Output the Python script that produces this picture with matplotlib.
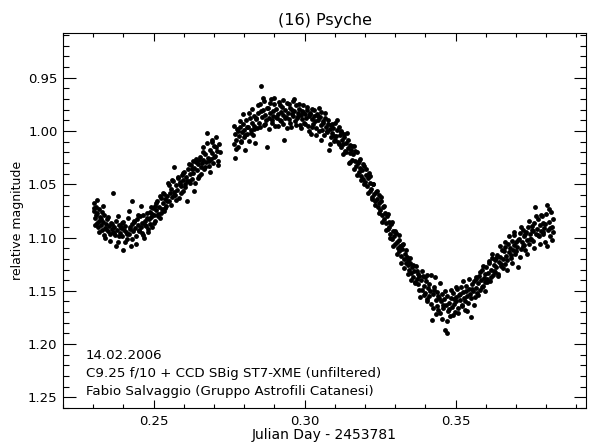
import matplotlib
matplotlib.use("Agg")
import matplotlib.pyplot as plt
from matplotlib.ticker import MultipleLocator

# light curve of (16) Psyche (JD - 2453781, relative mag)
jd_a = [0.2302, 0.2304, 0.2306, 0.2308, 0.2310, 0.2312, 0.2314, 0.2316, 0.2318, 0.2320,
        0.2323, 0.2325, 0.2328, 0.2330, 0.2333, 0.2335, 0.2338, 0.2340, 0.2343, 0.2346,
        0.2349, 0.2352, 0.2355, 0.2358, 0.2361, 0.2364, 0.2367, 0.2370, 0.2373, 0.2376,
        0.2379, 0.2382, 0.2385, 0.2388, 0.2391, 0.2394, 0.2397, 0.2400, 0.2403, 0.2406,
        0.2409, 0.2412, 0.2415, 0.2418, 0.2421, 0.2424, 0.2427, 0.2430, 0.2433, 0.2436,
        0.2439, 0.2442, 0.2445, 0.2448, 0.2451, 0.2454, 0.2457, 0.2460, 0.2463, 0.2466,
        0.2469, 0.2472, 0.2475, 0.2478, 0.2481, 0.2484, 0.2487, 0.2490, 0.2493, 0.2496,
        0.2301, 0.2307, 0.2313, 0.2319, 0.2326, 0.2332, 0.2337, 0.2344, 0.2350, 0.2356,
        0.2362, 0.2369, 0.2375, 0.2381, 0.2387, 0.2393, 0.2399, 0.2405, 0.2411, 0.2417,
        0.2423, 0.2429, 0.2435, 0.2441, 0.2447, 0.2453, 0.2459, 0.2465, 0.2471, 0.2477,
        0.2483, 0.2489, 0.2494, 0.2498]
mag_a = [1.068, 1.075, 1.082, 1.071, 1.079, 1.086, 1.077, 1.090, 1.073, 1.084,
         1.081, 1.088, 1.076, 1.093, 1.085, 1.079, 1.091, 1.100, 1.087, 1.083,
         1.094, 1.089, 1.097, 1.086, 1.092, 1.095, 1.058, 1.090, 1.098, 1.084,
         1.093, 1.104, 1.088, 1.096, 1.091, 1.086, 1.099, 1.112, 1.093, 1.089,
         1.095, 1.101, 1.082, 1.097, 1.090, 1.108, 1.087, 1.066, 1.094, 1.085,
         1.091, 1.099, 1.083, 1.088, 1.094, 1.080, 1.090, 1.086, 1.096, 1.079,
         1.100, 1.084, 1.089, 1.077, 1.092, 1.083, 1.087, 1.071, 1.081, 1.078,
         1.072, 1.088, 1.065, 1.095, 1.083, 1.070, 1.098, 1.092, 1.081, 1.103,
         1.087, 1.096, 1.108, 1.080, 1.099, 1.090, 1.085, 1.104, 1.097, 1.075,
         1.092, 1.101, 1.084, 1.106, 1.079, 1.093, 1.070, 1.098, 1.088, 1.082,
         1.095, 1.076, 1.090, 1.072]

jd_b = [0.2500, 0.2503, 0.2506, 0.2509, 0.2512, 0.2515, 0.2518, 0.2521, 0.2524, 0.2527,
        0.2530, 0.2533, 0.2536, 0.2539, 0.2542, 0.2545, 0.2548, 0.2551, 0.2554, 0.2557,
        0.2560, 0.2563, 0.2566, 0.2569, 0.2572, 0.2575, 0.2578, 0.2581, 0.2584, 0.2587,
        0.2590, 0.2593, 0.2596, 0.2599, 0.2602, 0.2605, 0.2608, 0.2611, 0.2614, 0.2617,
        0.2620, 0.2623, 0.2626, 0.2629, 0.2632, 0.2635, 0.2638, 0.2641, 0.2644, 0.2647,
        0.2650, 0.2653, 0.2656, 0.2659, 0.2662, 0.2665, 0.2668, 0.2671, 0.2674, 0.2677,
        0.2680, 0.2683, 0.2686, 0.2689, 0.2692, 0.2695, 0.2698, 0.2701, 0.2704, 0.2707,
        0.2710, 0.2713, 0.2716, 0.2719,
        0.2502, 0.2508, 0.2514, 0.2520, 0.2526, 0.2532, 0.2538, 0.2544, 0.2550, 0.2556,
        0.2562, 0.2568, 0.2574, 0.2580, 0.2586, 0.2592, 0.2598, 0.2604, 0.2610, 0.2616,
        0.2622, 0.2628, 0.2634, 0.2640, 0.2646, 0.2652, 0.2658, 0.2664, 0.2670, 0.2676,
        0.2682, 0.2688, 0.2694, 0.2700, 0.2706, 0.2712]
mag_b = [1.079, 1.070, 1.084, 1.074, 1.066, 1.078, 1.071, 1.082, 1.063, 1.073,
         1.068, 1.059, 1.075, 1.064, 1.070, 1.061, 1.049, 1.066, 1.058, 1.054,
         1.062, 1.047, 1.057, 1.034, 1.060, 1.051, 1.055, 1.044, 1.063, 1.048,
         1.052, 1.041, 1.056, 1.046, 1.038, 1.050, 1.043, 1.066, 1.036, 1.047,
         1.040, 1.032, 1.045, 1.028, 1.039, 1.035, 1.049, 1.026, 1.037, 1.031,
         1.042, 1.024, 1.034, 1.030, 1.015, 1.027, 1.036, 1.022, 1.029, 1.002,
         1.025, 1.033, 1.018, 1.026, 1.010, 1.021, 1.030, 1.014, 1.023, 1.006,
         1.019, 1.028, 1.012, 1.020,
         1.086, 1.068, 1.080, 1.061, 1.077, 1.058, 1.072, 1.066, 1.051, 1.069,
         1.046, 1.060, 1.065, 1.043, 1.050, 1.058, 1.039, 1.053, 1.047, 1.031,
         1.049, 1.036, 1.056, 1.029, 1.044, 1.027, 1.040, 1.020, 1.034, 1.011,
         1.028, 1.038, 1.008, 1.024, 1.015, 1.032]

jd_c = [0.2765, 0.2768, 0.2771, 0.2774, 0.2777, 0.2780, 0.2783, 0.2786, 0.2789, 0.2792,
        0.2795, 0.2798, 0.2801, 0.2804, 0.2807, 0.2810, 0.2813, 0.2816, 0.2819, 0.2822,
        0.2825, 0.2828, 0.2831, 0.2834, 0.2837, 0.2840, 0.2843, 0.2846, 0.2849, 0.2852,
        0.2855, 0.2858, 0.2861, 0.2864, 0.2867, 0.2870, 0.2873, 0.2876, 0.2879, 0.2882,
        0.2885, 0.2888, 0.2891, 0.2894, 0.2897, 0.2900, 0.2903, 0.2906, 0.2909, 0.2912,
        0.2915, 0.2918, 0.2921, 0.2924, 0.2927, 0.2930, 0.2933, 0.2936, 0.2939, 0.2942,
        0.2945, 0.2948, 0.2951, 0.2954, 0.2957, 0.2960, 0.2963, 0.2966, 0.2969, 0.2972,
        0.2975, 0.2978, 0.2981, 0.2984, 0.2987, 0.2990, 0.2993, 0.2996, 0.2999, 0.3002,
        0.3005, 0.3008, 0.3011, 0.3014, 0.3017, 0.3020, 0.3023, 0.3026, 0.3029, 0.3032,
        0.3035, 0.3038, 0.3041, 0.3044, 0.3047, 0.3050, 0.3053, 0.3056, 0.3059, 0.3062,
        0.3065, 0.3068, 0.3071, 0.3074, 0.3077, 0.3080, 0.3083, 0.3086, 0.3089, 0.3092,
        0.3095, 0.3098,
        0.2767, 0.2773, 0.2779, 0.2785, 0.2791, 0.2797, 0.2803, 0.2809, 0.2815, 0.2821,
        0.2827, 0.2833, 0.2839, 0.2845, 0.2851, 0.2857, 0.2863, 0.2869, 0.2875, 0.2881,
        0.2887, 0.2893, 0.2899, 0.2905, 0.2911, 0.2917, 0.2923, 0.2929, 0.2935, 0.2941,
        0.2947, 0.2953, 0.2959, 0.2965, 0.2971, 0.2977, 0.2983, 0.2989, 0.2995, 0.3001,
        0.3007, 0.3013, 0.3019, 0.3025, 0.3031, 0.3037, 0.3043, 0.3049, 0.3055, 0.3061,
        0.3067, 0.3073, 0.3079, 0.3085, 0.3091, 0.3097]
mag_c = [1.012, 1.025, 1.003, 1.008, 0.998, 1.015, 1.005, 0.996, 1.010, 1.001,
         0.993, 1.006, 0.999, 1.018, 0.990, 1.003, 0.996, 1.009, 0.988, 0.999,
         0.992, 1.004, 0.986, 0.995, 1.011, 0.989, 0.997, 0.983, 0.992, 0.975,
         0.958, 0.987, 0.980, 0.994, 0.972, 0.985, 0.990, 1.015, 0.978, 0.988,
         0.983, 0.970, 0.992, 0.981, 0.986, 0.975, 0.995, 0.979, 0.988, 0.984,
         0.973, 0.990, 0.982, 0.977, 0.993, 0.985, 1.008, 0.980, 0.987, 0.974,
         0.983, 0.989, 0.978, 0.996, 0.984, 0.972, 0.986, 0.981, 0.991, 0.976,
         0.988, 0.983, 0.979, 0.994, 0.985, 0.981, 0.989, 0.976, 0.992, 0.984,
         0.988, 0.980, 0.995, 0.986, 0.983, 1.003, 0.989, 0.979, 0.993, 0.986,
         0.991, 0.997, 0.984, 0.990, 1.000, 0.987, 0.994, 0.982, 0.999, 0.992,
         1.004, 0.988, 0.996, 1.001, 0.993, 1.018, 0.998, 1.006, 0.994, 1.002,
         0.997, 1.009,
         0.995, 1.017, 1.000, 0.991, 1.009, 0.984, 1.004, 0.996, 0.983, 1.002,
         0.979, 0.998, 0.988, 0.976, 0.996, 0.981, 0.969, 0.993, 0.978, 0.998,
         0.974, 0.990, 0.969, 0.987, 0.995, 0.976, 0.991, 0.971, 0.988, 0.997,
         0.975, 0.992, 0.980, 0.970, 0.994, 0.986, 0.975, 0.997, 0.982, 0.993,
         0.977, 1.000, 0.984, 0.996, 0.980, 1.004, 0.986, 0.978, 1.008, 0.991,
         0.983, 1.000, 0.990, 1.012, 0.993, 1.005]

jd_d = [0.3101, 0.3104, 0.3107, 0.3110, 0.3113, 0.3116, 0.3119, 0.3122, 0.3125, 0.3128,
        0.3131, 0.3134, 0.3137, 0.3140, 0.3143, 0.3146, 0.3149, 0.3152, 0.3155, 0.3158,
        0.3161, 0.3164, 0.3167, 0.3170, 0.3173, 0.3176, 0.3179, 0.3182, 0.3185, 0.3188,
        0.3191, 0.3194, 0.3197, 0.3200, 0.3203, 0.3206, 0.3209, 0.3212, 0.3215, 0.3218,
        0.3221, 0.3224, 0.3227, 0.3230, 0.3233, 0.3236, 0.3239, 0.3242, 0.3245, 0.3248,
        0.3251, 0.3254, 0.3257, 0.3260, 0.3263, 0.3266, 0.3269, 0.3272, 0.3275, 0.3278,
        0.3281, 0.3284, 0.3287, 0.3290, 0.3293, 0.3296, 0.3299, 0.3302, 0.3305, 0.3308,
        0.3311, 0.3314, 0.3317, 0.3320, 0.3323, 0.3326, 0.3329, 0.3332, 0.3335, 0.3338,
        0.3341, 0.3344, 0.3347, 0.3350, 0.3353, 0.3356, 0.3359, 0.3362, 0.3365, 0.3368,
        0.3371, 0.3374, 0.3377, 0.3380, 0.3383,
        0.3102, 0.3108, 0.3114, 0.3120, 0.3126, 0.3132, 0.3138, 0.3144, 0.3150, 0.3156,
        0.3162, 0.3168, 0.3174, 0.3180, 0.3186, 0.3192, 0.3198, 0.3204, 0.3210, 0.3216,
        0.3222, 0.3228, 0.3234, 0.3240, 0.3246, 0.3252, 0.3258, 0.3264, 0.3270, 0.3276,
        0.3282, 0.3288, 0.3294, 0.3300, 0.3306, 0.3312, 0.3318, 0.3324, 0.3330, 0.3336,
        0.3342, 0.3348, 0.3354, 0.3360, 0.3366, 0.3372, 0.3378]
mag_d = [0.992, 1.005, 0.999, 1.010, 0.996, 1.004, 1.015, 1.001, 1.008, 1.012,
         1.006, 1.019, 1.011, 1.002, 1.016, 1.030, 1.013, 1.021, 1.018, 1.027,
         1.022, 1.014, 1.028, 1.033, 1.020, 1.030, 1.038, 1.026, 1.035, 1.042,
         1.037, 1.045, 1.033, 1.048, 1.041, 1.052, 1.044, 1.039, 1.056, 1.049,
         1.054, 1.062, 1.050, 1.059, 1.066, 1.057, 1.064, 1.071, 1.060, 1.068,
         1.074, 1.066, 1.079, 1.071, 1.083, 1.077, 1.086, 1.080, 1.092, 1.085,
         1.090, 1.097, 1.087, 1.101, 1.094, 1.099, 1.106, 1.096, 1.104, 1.110,
         1.102, 1.113, 1.108, 1.117, 1.111, 1.106, 1.120, 1.115, 1.124, 1.118,
         1.126, 1.121, 1.130, 1.124, 1.133, 1.128, 1.137, 1.131, 1.142, 1.127,
         1.139, 1.134, 1.144, 1.136, 1.156,
         1.008, 0.990, 1.012, 1.000, 1.022, 1.003, 1.020, 1.008, 1.029, 1.014,
         1.036, 1.019, 1.041, 1.028, 1.046, 1.031, 1.050, 1.036, 1.058, 1.042,
         1.064, 1.050, 1.069, 1.056, 1.077, 1.062, 1.085, 1.070, 1.093, 1.078,
         1.100, 1.085, 1.108, 1.094, 1.115, 1.098, 1.124, 1.107, 1.129, 1.112,
         1.134, 1.119, 1.140, 1.126, 1.143, 1.131, 1.149]

jd_e = [0.3386, 0.3389, 0.3392, 0.3395, 0.3398, 0.3401, 0.3404, 0.3407, 0.3410, 0.3413,
        0.3416, 0.3419, 0.3422, 0.3425, 0.3428, 0.3431, 0.3434, 0.3437, 0.3440, 0.3443,
        0.3446, 0.3449, 0.3452, 0.3455, 0.3458, 0.3461, 0.3464, 0.3467, 0.3470, 0.3473,
        0.3476, 0.3479, 0.3482, 0.3485, 0.3488, 0.3491, 0.3494, 0.3497, 0.3500, 0.3503,
        0.3506, 0.3509, 0.3512, 0.3515, 0.3518, 0.3521, 0.3524, 0.3527, 0.3530, 0.3533,
        0.3536, 0.3539, 0.3542, 0.3545, 0.3548, 0.3551, 0.3554, 0.3557, 0.3560, 0.3563,
        0.3566, 0.3569, 0.3572, 0.3575, 0.3578, 0.3581, 0.3584, 0.3587, 0.3590, 0.3593,
        0.3596, 0.3599,
        0.3388, 0.3394, 0.3400, 0.3406, 0.3412, 0.3418, 0.3424, 0.3430, 0.3436, 0.3442,
        0.3448, 0.3454, 0.3460, 0.3466, 0.3472, 0.3478, 0.3484, 0.3490, 0.3496, 0.3502,
        0.3508, 0.3514, 0.3520, 0.3526, 0.3532, 0.3538, 0.3544, 0.3550, 0.3556, 0.3562,
        0.3568, 0.3574, 0.3580, 0.3586, 0.3592, 0.3598]
mag_e = [1.140, 1.149, 1.136, 1.145, 1.152, 1.141, 1.158, 1.135, 1.147, 1.155,
         1.150, 1.162, 1.177, 1.153, 1.146, 1.137, 1.159, 1.164, 1.151, 1.168,
         1.157, 1.171, 1.160, 1.153, 1.166, 1.158, 1.187, 1.163, 1.190, 1.155,
         1.169, 1.161, 1.174, 1.157, 1.165, 1.152, 1.162, 1.170, 1.156, 1.160,
         1.148, 1.166, 1.154, 1.159, 1.146, 1.163, 1.151, 1.157, 1.168, 1.150,
         1.145, 1.155, 1.161, 1.148, 1.153, 1.175, 1.144, 1.150, 1.141, 1.156,
         1.147, 1.139, 1.152, 1.143, 1.136, 1.149, 1.140, 1.130, 1.145, 1.138,
         1.134, 1.142,
         1.131, 1.154, 1.137, 1.160, 1.144, 1.135, 1.166, 1.149, 1.172, 1.155,
         1.143, 1.176, 1.163, 1.150, 1.178, 1.167, 1.149, 1.173, 1.158, 1.146,
         1.171, 1.153, 1.164, 1.141, 1.160, 1.169, 1.139, 1.157, 1.148, 1.163,
         1.137, 1.154, 1.132, 1.146, 1.127, 1.150]

jd_f = [0.3602, 0.3605, 0.3608, 0.3611, 0.3614, 0.3617, 0.3620, 0.3623, 0.3626, 0.3629,
        0.3632, 0.3635, 0.3638, 0.3641, 0.3644, 0.3647, 0.3650, 0.3653, 0.3656, 0.3659,
        0.3662, 0.3665, 0.3668, 0.3671, 0.3674, 0.3677, 0.3680, 0.3683, 0.3686, 0.3689,
        0.3692, 0.3695, 0.3698, 0.3701, 0.3704, 0.3707, 0.3710, 0.3713, 0.3716, 0.3719,
        0.3722, 0.3725, 0.3728, 0.3731, 0.3734, 0.3737, 0.3740, 0.3743, 0.3746, 0.3749,
        0.3752, 0.3755, 0.3758, 0.3761, 0.3764, 0.3767, 0.3770, 0.3773, 0.3776, 0.3779,
        0.3782, 0.3785, 0.3788, 0.3791, 0.3794, 0.3797, 0.3800, 0.3803, 0.3806, 0.3809,
        0.3812, 0.3815, 0.3818, 0.3821, 0.3824,
        0.3604, 0.3610, 0.3616, 0.3622, 0.3628, 0.3634, 0.3640, 0.3646, 0.3652, 0.3658,
        0.3664, 0.3670, 0.3676, 0.3682, 0.3688, 0.3694, 0.3700, 0.3706, 0.3712, 0.3718,
        0.3724, 0.3730, 0.3736, 0.3742, 0.3748, 0.3754, 0.3760, 0.3766, 0.3772, 0.3778,
        0.3784, 0.3790, 0.3796, 0.3802, 0.3808, 0.3814, 0.3820]
mag_f = [1.128, 1.139, 1.133, 1.124, 1.141, 1.130, 1.119, 1.135, 1.126, 1.132,
         1.121, 1.128, 1.116, 1.134, 1.123, 1.118, 1.127, 1.112, 1.120, 1.113,
         1.125, 1.109, 1.117, 1.130, 1.106, 1.114, 1.110, 1.119, 1.103, 1.112,
         1.107, 1.098, 1.115, 1.104, 1.109, 1.128, 1.101, 1.096, 1.111, 1.104,
         1.093, 1.107, 1.099, 1.112, 1.095, 1.102, 1.090, 1.106, 1.097, 1.101,
         1.089, 1.094, 1.103, 1.086, 1.071, 1.097, 1.092, 1.083, 1.099, 1.088,
         1.094, 1.080, 1.097, 1.086, 1.091, 1.104, 1.078, 1.069, 1.093, 1.085,
         1.099, 1.076, 1.090, 1.083, 1.095,
         1.142, 1.122, 1.137, 1.115, 1.131, 1.119, 1.136, 1.108, 1.125, 1.129,
         1.104, 1.121, 1.099, 1.116, 1.124, 1.095, 1.113, 1.102, 1.118, 1.090,
         1.108, 1.097, 1.115, 1.084, 1.101, 1.093, 1.110, 1.080, 1.098, 1.106,
         1.079, 1.095, 1.087, 1.108, 1.073, 1.091, 1.102]

notes = ["14.02.2006",
         "C9.25 f/10 + CCD SBig ST7-XME (unfiltered)",
         "Fabio Salvaggio (Gruppo Astrofili Catanesi)"]

jd = jd_a + jd_b + jd_c + jd_d + jd_e + jd_f
mag = mag_a + mag_b + mag_c + mag_d + mag_e + mag_f

fig = plt.figure(figsize=(5.91, 4.45), dpi=100)
ax = fig.add_axes([0.1066, 0.0831, 0.885, 0.8427])

ax.plot(jd, mag, 'o', color='black', markersize=3.5, markeredgewidth=0)

ax.set_xlim(0.22, 0.3932)
ax.set_ylim(1.26, 0.908)
ax.xaxis.set_major_locator(MultipleLocator(0.05))
ax.xaxis.set_minor_locator(MultipleLocator(0.01))
ax.yaxis.set_major_locator(MultipleLocator(0.05))
ax.yaxis.set_minor_locator(MultipleLocator(0.01))
ax.xaxis.set_major_formatter(plt.FormatStrFormatter('%.2f'))
ax.yaxis.set_major_formatter(plt.FormatStrFormatter('%.2f'))

ax.tick_params(which='both', direction='in', top=True, right=True, width=0.8, labelsize=9.5)
ax.tick_params(axis='x', which='major', length=5.8, pad=5)
ax.tick_params(axis='x', which='minor', length=3)
ax.tick_params(axis='y', which='major', length=9, pad=4)
ax.tick_params(axis='y', which='minor', length=4.5)
for s in ax.spines.values():
    s.set_linewidth(0.8)

ax.set_title("(16) Psyche", fontsize=11.5, pad=6)
ax.set_xlabel("Julian Day - 2453781", fontsize=10, labelpad=0)
ax.set_ylabel("relative magnitude", fontsize=9, labelpad=3)

for i, line in enumerate(notes):
    ax.text(0.044, 0.141 - i * 0.049, line, transform=ax.transAxes,
            fontsize=9.6, va='center', ha='left')

fig.savefig("out.png", dpi=100)
